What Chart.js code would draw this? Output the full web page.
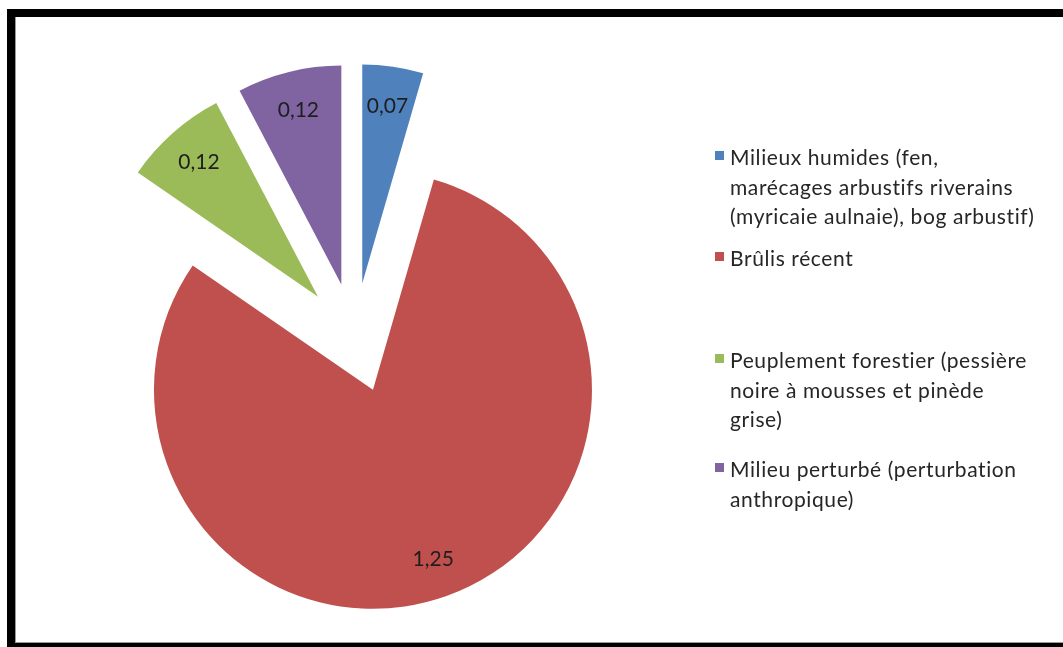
<!DOCTYPE html>
<html>
<head>
<meta charset="utf-8">
<script src="https://cdn.jsdelivr.net/npm/chart.js@4"></script>
<style>
  html, body { margin: 0; padding: 0; background: #fff; overflow: hidden; }
  body { width: 1063px; height: 647px; position: relative; font-family: Lato, "Open Sans", sans-serif; }
  #cadre {
    position: absolute; left: 7px; top: 9px; right: 0; bottom: 0;
    border-top: 8px solid #000; border-left: 8px solid #000; border-bottom: 4px solid #000;
    box-shadow: inset 1px 0 0 #9a9a9a, inset 0 -1px 0 #9a9a9a;
  }
  #zone { position: absolute; left: 0; top: 0; width: 1063px; height: 647px; }
  #legende { position: absolute; left: 0; top: 0; }
  .item { position: absolute; left: 715px; white-space: nowrap; }
  .carre { position: absolute; left: 0; top: 9px; width: 9px; height: 9px; }
  .texte { position: absolute; left: 15px; top: 0; font-size: 21px; letter-spacing: 0.6px; line-height: 29.5px; color: #262626; }
</style>
</head>
<body>
<div id="cadre"></div>
<div id="zone"><canvas id="tarte"></canvas></div>
<div id="legende"></div>
<script>
// Superficie par type de milieu
const categories = [
  ['Milieux humides (fen,', 'marécages arbustifs riverains', '(myricaie aulnaie), bog arbustif)'],
  ['Brûlis récent'],
  ['Peuplement forestier (pessière', 'noire à mousses et pinède', 'grise)'],
  ['Milieu perturbé (perturbation', 'anthropique)']
];
const valeurs = [0.07, 1.25, 0.12, 0.12];
const couleurs = ['#4F81BD', '#C0504D', '#9BBB59', '#8064A2'];

const RAYON = 219;       // rayon visible des pointes
const ECLATEMENT = 220;  // chart.js divise l'offset par 4 -> ~55px
const hautLegende = [142, 243, 345, 454]; // haut de chaque entrée de légende

// Chart.js agrandit le rayon des pointes éclatées et rogne leur angle,
// on compense pour garder des pointes comme dans Excel
const compenseEclatement = {
    id: 'compenseEclatement',
    afterDatasetUpdate(chart) {
        chart.getDatasetMeta(0).data.forEach(arc => {
            const t = (arc.options.offset || 0) / 4;
            const circ = arc.endAngle - arc.startAngle;
            const fix = 1 - Math.sin(Math.min(Math.PI, circ));
            const ro = t * fix;
            arc.outerRadius = RAYON - ro;
            const elargi = ro / (Math.PI * RAYON) / 2;
            arc.startAngle -= elargi;
            arc.endAngle += elargi;
        });
    }
};

// Étiquettes de valeurs dans les pointes (virgule décimale)
const etiquettes = {
    id: 'etiquettes',
    afterDatasetsDraw(chart) {
        const ctx = chart.ctx;
        const meta = chart.getDatasetMeta(0);
        ctx.save();
        ctx.font = '21px Lato, "Open Sans", sans-serif';
        ctx.fillStyle = '#1e1e1e';
        ctx.textAlign = 'center';
        ctx.textBaseline = 'middle';
        meta.data.forEach((arc, i) => {
            const h = (arc.startAngle + arc.endAngle) / 2;
            const t = (arc.options.offset || 0) / 4;
            const d = t + RAYON * 0.82;
            const x = arc.x + Math.cos(h) * d;
            const y = arc.y + Math.sin(h) * d;
            ctx.fillText(valeurs[i].toFixed(2).replace('.', ','), x, y);
        });
        ctx.restore();
    }
};

const graphique = new Chart(document.getElementById('tarte'), {
    type: 'pie',
    data: {
        labels: categories.map(c => c.join(' ')),
        datasets: [{
            data: valeurs,
            backgroundColor: couleurs,
            borderWidth: 0,
            offset: ECLATEMENT,
            hoverOffset: 0,
            radius: RAYON
        }]
    },
    options: {
        responsive: true,
        maintainAspectRatio: false,
        animation: false,
        layout: { padding: { left: 0, right: 354, top: 29, bottom: 0 } },
        plugins: {
            legend: { display: false },
            tooltip: { enabled: false }
        },
        events: []
    },
    plugins: [compenseEclatement, etiquettes]
});

// Légende à droite
const legende = document.getElementById('legende');
categories.forEach((lignes, i) => {
    const item = document.createElement('div');
    item.className = 'item';
    item.style.top = hautLegende[i] + 'px';
    const carre = document.createElement('div');
    carre.className = 'carre';
    carre.style.background = couleurs[i];
    const texte = document.createElement('div');
    texte.className = 'texte';
    texte.innerHTML = lignes.join('<br>');
    item.appendChild(carre);
    item.appendChild(texte);
    legende.appendChild(item);
});
</script>
</body>
</html>
